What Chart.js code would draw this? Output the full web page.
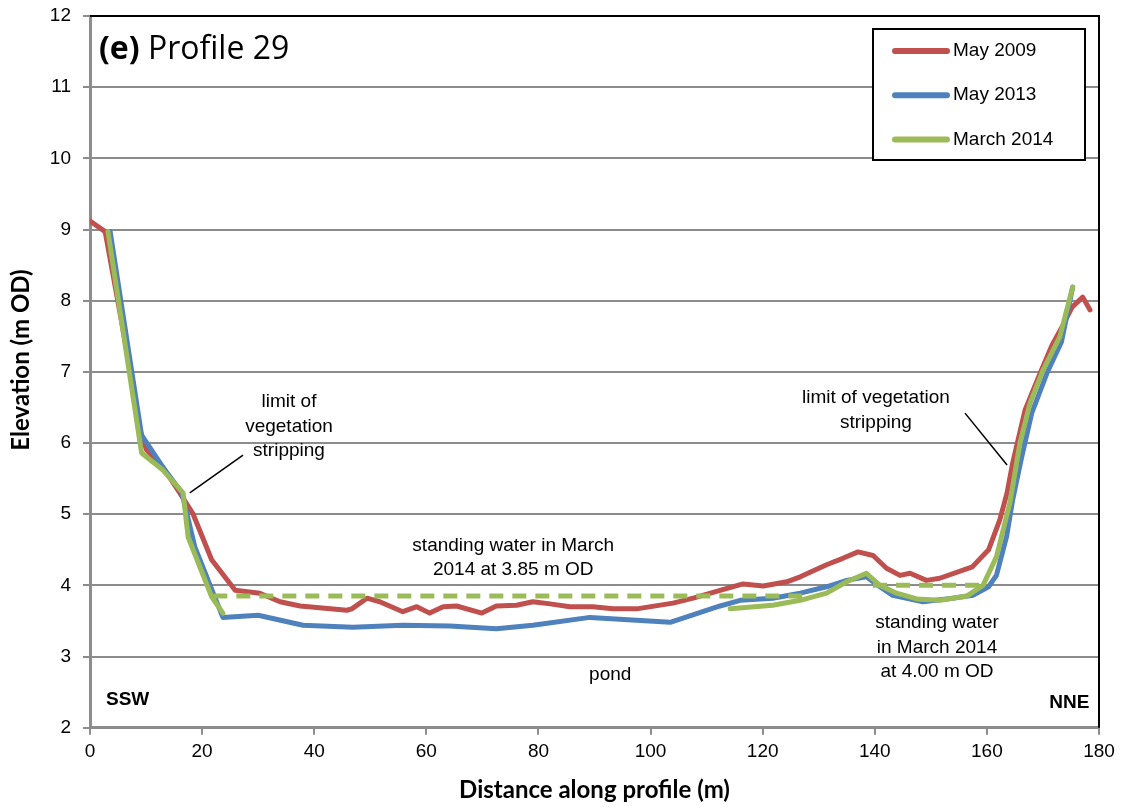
<!DOCTYPE html>
<html>
<head>
<meta charset="utf-8">
<script src="https://cdn.jsdelivr.net/npm/chart.js@4/dist/chart.umd.min.js"></script>
<style>
  html, body { margin: 0; padding: 0; background: #fff; }
  #wrap { width: 1123px; height: 807px; }
</style>
</head>
<body>
<div id="wrap"><canvas id="perfil" width="1123" height="807"></canvas></div>
<script>
// profile 29 - distance (m) / elevation (m OD)
const dist2009 = [0, 2.7, 6.0, 8.9, 10.1, 13.0, 16.1, 18.4, 21.7, 25.9, 30.3, 33.9, 37.5, 45.8, 46.7, 49.4, 51.7, 55.8, 58.3, 60.6, 63.0, 65.4, 69.9, 72.5, 76.1, 79.0, 82.1, 85.6, 89.7, 93.3, 97.5, 104.0, 107.6, 112.4, 116.5, 120.1, 124.3, 126.7, 131.4, 134.3, 137.0, 139.7, 142.1, 144.5, 146.3, 149.2, 151.6, 157.4, 160.3, 162.3, 163.6, 164.6, 166.8, 169.5, 171.6, 173.4, 175.2, 177.1, 178.4];
const elev2009 = [9.12, 8.97, 7.55, 6.18, 5.90, 5.66, 5.29, 5.00, 4.36, 3.93, 3.89, 3.77, 3.71, 3.65, 3.67, 3.82, 3.77, 3.63, 3.70, 3.61, 3.70, 3.71, 3.61, 3.71, 3.72, 3.77, 3.74, 3.70, 3.70, 3.67, 3.67, 3.75, 3.82, 3.93, 4.02, 3.99, 4.05, 4.12, 4.29, 4.38, 4.47, 4.42, 4.24, 4.14, 4.17, 4.07, 4.10, 4.26, 4.50, 4.92, 5.30, 5.72, 6.46, 6.98, 7.37, 7.63, 7.91, 8.05, 7.87];

const dist2013 = [3.6, 9.2, 13.0, 16.4, 18.7, 23.7, 30.0, 38.0, 46.9, 55.8, 64.2, 72.5, 79.0, 89.2, 103.5, 112.4, 116.0, 121.8, 126.7, 131.4, 135.0, 138.5, 140.9, 143.2, 148.6, 153.9, 157.5, 160.3, 161.7, 163.5, 164.6, 166.2, 168.0, 170.7, 173.3, 175.3];
const elev2013 = [8.97, 6.11, 5.66, 5.30, 4.54, 3.55, 3.58, 3.44, 3.41, 3.44, 3.43, 3.39, 3.44, 3.55, 3.48, 3.71, 3.79, 3.82, 3.89, 3.98, 4.07, 4.12, 3.98, 3.86, 3.77, 3.82, 3.86, 3.98, 4.14, 4.68, 5.20, 5.80, 6.42, 6.98, 7.42, 8.19];

// null = no survey across the pond
const dist2014 = [3.2, 9.2, 13.0, 16.6, 17.5, 21.7, 23.7, 70, 114.2, 121.8, 126.7, 131.4, 135.0, 138.5, 140.9, 143.9, 147.5, 151.6, 156.4, 159.3, 161.7, 164.1, 165.9, 167.7, 170.0, 173.0, 175.3];
const elev2014 = [8.97, 5.86, 5.62, 5.30, 4.68, 3.84, 3.61, null, 3.67, 3.72, 3.79, 3.89, 4.05, 4.17, 4.00, 3.89, 3.81, 3.79, 3.85, 4.00, 4.40, 5.16, 6.00, 6.56, 7.02, 7.49, 8.19];

// standing water levels, March 2014
const agua1Dist = [22.0, 127.5];
const agua1Nivel = [3.85, 3.85];
const agua2Dist = [139.7, 160.0];
const agua2Nivel = [4.00, 4.00];

const xTicks = [0, 20, 40, 60, 80, 100, 120, 140, 160, 180];
const yTicks = [2, 3, 4, 5, 6, 7, 8, 9, 10, 11, 12];

const pares = (xs, ys) => xs.map((x, i) => ({ x: x, y: ys[i] }));

const VERMELHO = '#C0504D';
const AZUL = '#4F81BD';
const VERDE = '#9BBB59';
const arial = '"Liberation Sans", Arial, sans-serif';
const lato = 'Lato, "Open Sans", sans-serif';

// text labels (position in data units)
const notas = [
    { linhas: ['limit of', 'vegetation', 'stripping'], x: 35.5, y: 6.23, align: 'center' },
    { linhas: ['standing water in March', '2014 at 3.85 m OD'], x: 75.5, y: 4.39, align: 'center' },
    { linhas: ['limit of vegetation', 'stripping'], x: 140.2, y: 6.46, align: 'center' },
    { linhas: ['standing water', 'in March 2014', 'at 4.00 m OD'], x: 151.1, y: 3.13, align: 'center' },
    { linhas: ['pond'], x: 92.8, y: 2.74, align: 'center' },
    { linhas: ['SSW'], x: 2.85, y: 2.39, align: 'left', bold: true },
    { linhas: ['NNE'], x: 178.3, y: 2.35, align: 'right', bold: true },
];
const setas = [
    { x1: 17.8, y1: 5.30, x2: 27.3, y2: 5.83 },
    { x1: 156.1, y1: 6.42, x2: 163.6, y2: 5.69 },
];

const extras = {
    id: 'extras',
    afterDatasetsDraw(chart) {
        const { ctx, chartArea: a, scales: { x, y } } = chart;
        ctx.save();
        // top and right frame
        ctx.strokeStyle = '#000';
        ctx.lineWidth = 2;
        ctx.beginPath();
        ctx.moveTo(a.left, a.top);
        ctx.lineTo(a.right, a.top);
        ctx.lineTo(a.right, a.bottom);
        ctx.stroke();

        ctx.lineWidth = 1.5;
        setas.forEach(s => {
            ctx.beginPath();
            ctx.moveTo(x.getPixelForValue(s.x1), y.getPixelForValue(s.y1));
            ctx.lineTo(x.getPixelForValue(s.x2), y.getPixelForValue(s.y2));
            ctx.stroke();
        });

        ctx.fillStyle = '#000';
        ctx.textBaseline = 'middle';
        notas.forEach(n => {
            ctx.font = (n.bold ? 'bold ' : '') + '19px ' + arial;
            ctx.textAlign = n.align;
            const px = x.getPixelForValue(n.x);
            const py = y.getPixelForValue(n.y);
            const lh = 24.5;
            const y0 = py - (n.linhas.length - 1) * lh / 2;
            n.linhas.forEach((t, i) => ctx.fillText(t, px, y0 + i * lh));
        });

        // panel title
        ctx.textAlign = 'left';
        ctx.textBaseline = 'alphabetic';
        ctx.font = 'bold 32px "Open Sans", sans-serif';
        ctx.fillText('(e)', a.left + 9, a.top + 43);
        const w = ctx.measureText('(e) ').width;
        ctx.font = '32px "Open Sans", sans-serif';
        ctx.fillText('Profile 29', a.left + 9 + w, a.top + 43);

        // axis titles
        ctx.font = 'bold 24px ' + lato;
        ctx.textAlign = 'center';
        ctx.fillText('Distance along profile (m)', (a.left + a.right) / 2, 798);
        ctx.save();
        ctx.translate(29, 360);
        ctx.rotate(-Math.PI / 2);
        ctx.fillText('Elevation (m OD)', 0, 0);
        ctx.restore();

        // legend
        const bx = 873, by = 29, bw = 212, bh = 131;
        ctx.fillStyle = '#fff';
        ctx.fillRect(bx, by, bw, bh);
        ctx.strokeStyle = '#000';
        ctx.lineWidth = 2;
        ctx.strokeRect(bx, by, bw, bh);
        const itens = chart.data.datasets.filter(d => !d.guia);
        ctx.textAlign = 'left';
        itens.forEach((d, i) => {
            const ly = by + 22 + i * 44.2;
            ctx.strokeStyle = d.borderColor;
            ctx.lineWidth = 6;
            ctx.lineCap = 'round';
            ctx.beginPath();
            ctx.moveTo(bx + 22, ly);
            ctx.lineTo(bx + 74, ly);
            ctx.stroke();
            ctx.fillStyle = '#000';
            ctx.font = '19px ' + arial;
            ctx.textBaseline = 'middle';
            ctx.fillText(d.label, bx + 80, ly);
        });
        ctx.restore();
    }
};

const linha = (label, dados, cor, ordem) => ({
    label: label,
    data: dados,
    borderColor: cor,
    backgroundColor: cor,
    borderWidth: 5,
    pointRadius: 0,
    tension: 0,
    spanGaps: false,
    borderJoinStyle: 'round',
    borderCapStyle: 'round',
    order: ordem,
});

new Chart(document.getElementById('perfil'), {
    type: 'line',
    data: {
        datasets: [
            linha('May 2009', pares(dist2009, elev2009), VERMELHO, 3),
            linha('May 2013', pares(dist2013, elev2013), AZUL, 2),
            linha('March 2014', pares(dist2014, elev2014), VERDE, 1),
            Object.assign(linha('water 3.85', pares(agua1Dist, agua1Nivel), VERDE, 0),
                { borderDash: [14, 9], borderCapStyle: 'butt', guia: true }),
            Object.assign(linha('water 4.00', pares(agua2Dist, agua2Nivel), VERDE, 0),
                { borderDash: [14, 9], borderCapStyle: 'butt', guia: true }),
        ]
    },
    options: {
        responsive: false,
        animation: false,
        devicePixelRatio: 1,
        layout: { padding: { top: 16, right: 24, left: 0, bottom: 0 } },
        plugins: { legend: { display: false }, tooltip: { enabled: false } },
        scales: {
            x: {
                type: 'linear',
                min: 0,
                max: 180,
                afterBuildTicks: s => { s.ticks = xTicks.map(v => ({ value: v })); },
                afterFit: s => { s.height = 79.3; s.paddingLeft = 0; s.paddingRight = 0; },
                ticks: { color: '#000', font: { family: arial, size: 19 }, padding: 6, maxRotation: 0 },
                grid: { drawOnChartArea: false, drawTicks: true, tickLength: 7, color: '#8c8c8c', lineWidth: 2 },
                border: { color: '#8c8c8c', width: 3 }
            },
            y: {
                min: 2,
                max: 12,
                afterBuildTicks: s => { s.ticks = yTicks.map(v => ({ value: v })); },
                afterFit: s => { s.width = 90; s.paddingTop = 0; s.paddingBottom = 0; },
                ticks: { color: '#000', font: { family: arial, size: 19 }, padding: 12 },
                grid: { tickLength: 7, color: '#8c8c8c', lineWidth: 2 },
                border: { color: '#8c8c8c', width: 3 }
            }
        }
    },
    plugins: [extras]
});
</script>
</body>
</html>
